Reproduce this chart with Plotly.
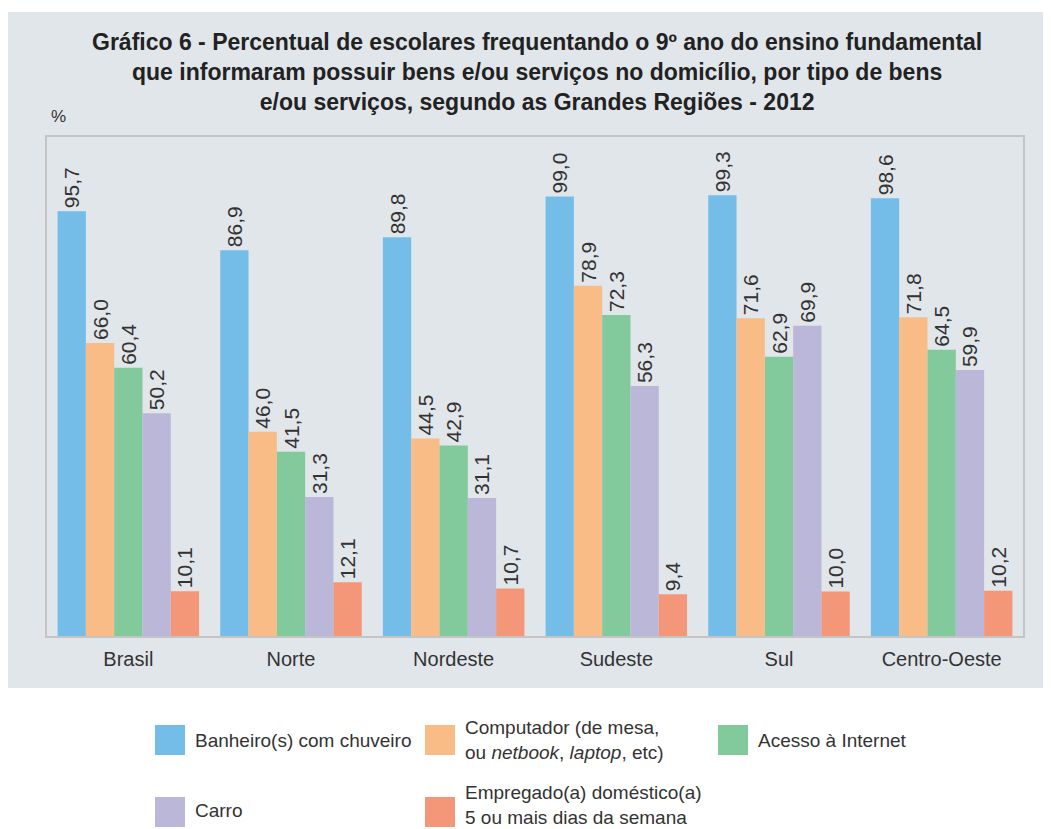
import plotly.graph_objects as go

regions = ["Brasil", "Norte", "Nordeste", "Sudeste", "Sul", "Centro-Oeste"]
series_names = [
    "Banheiro(s) com chuveiro",
    "Computador (de mesa,<br>ou <i>netbook</i>, <i>laptop</i>, etc)",
    "Acesso à Internet",
    "Carro",
    "Empregado(a) doméstico(a)<br>5 ou mais dias da semana",
]
banheiro = [95.7, 86.9, 89.8, 99.0, 99.3, 98.6]
computador = [66.0, 46.0, 44.5, 78.9, 71.6, 71.8]
internet = [60.4, 41.5, 42.9, 72.3, 62.9, 64.5]
carro = [50.2, 31.3, 31.1, 56.3, 69.9, 59.9]
empregado = [10.1, 12.1, 10.7, 9.4, 10.0, 10.2]
series_values = [banheiro, computador, internet, carro, empregado]
colors = ["#74bde8", "#f9bc87", "#82ca9b", "#bab7d9", "#f49779"]

# page has an 8px body margin: figure is drawn at (8, 8)
W, H = 1043, 821
PL, PR, PT, PB = 47, 1023, 137, 636  # plot area in window pixels


def fx(px):
    return (px - PL) / (PR - PL)


def fy(py):
    return (PB - py) / (PB - PT)


FONT = "Liberation Sans, Arial, sans-serif"
fig = go.Figure()
for name, vals, col in zip(series_names, series_values, colors):
    fig.add_trace(go.Bar(
        x=regions, y=vals, name=name, marker_color=col, marker_line_width=0,
        texttemplate="%{y:.1f}", textposition="outside", textangle=-90,
        constraintext="none",
        textfont=dict(family=FONT, size=21, color="#333333"),
        cliponaxis=False, showlegend=False,
    ))

shapes = [
    dict(type="rect", xref="paper", yref="paper", layer="below",
         x0=fx(6), x1=fx(1060), y0=fy(688), y1=fy(12),
         fillcolor="#e1e6ea", line_width=0),
]

annotations = [
    dict(text="<b>Gráfico 6 - Percentual de escolares frequentando o 9º ano do ensino fundamental<br>"
              "que informaram possuir bens e/ou serviços no domicílio, por tipo de bens<br>"
              "e/ou serviços, segundo as Grandes Regiões - 2012</b>",
         xref="paper", yref="paper", x=fx(537), y=fy(72),
         xanchor="center", yanchor="middle", showarrow=False, align="center",
         font=dict(family=FONT, size=23, color="#222222")),
    dict(text="%", xref="paper", yref="paper", x=fx(49), y=fy(116),
         xanchor="left", yanchor="middle", showarrow=False,
         font=dict(family=FONT, size=17, color="#333333")),
]

# legend drawn manually
leg_pos = [(155, 740), (425, 740), (718, 740), (155, 810), (425, 805)]
for (px, py), name, col in zip(leg_pos, series_names, colors):
    sy = 812 if py > 780 else py
    shapes.append(dict(type="rect", xref="paper", yref="paper",
                       x0=fx(px), x1=fx(px + 30),
                       y0=fy(sy + 15), y1=fy(sy - 15),
                       fillcolor=col, line_width=0))
    annotations.append(dict(text=name, xref="paper", yref="paper",
                            x=fx(px + 38), y=fy(py),
                            xanchor="left", yanchor="middle", showarrow=False, align="left",
                            font=dict(family=FONT, size=19, color="#333333")))

fig.update_layout(
    width=W, height=H,
    margin=dict(l=PL - 8, r=W - (PR - 8), t=PT - 8, b=H - (PB - 8), pad=0),
    paper_bgcolor="white", plot_bgcolor="white",
    barmode="group", bargap=0.13, bargroupgap=0,
    separators=",.",
    shapes=shapes, annotations=annotations,
    showlegend=False,
    xaxis=dict(showgrid=False, ticks="", showline=True, linecolor="#c4c4c4", linewidth=2,
               mirror=True, ticklabelstandoff=4,
               tickfont=dict(family=FONT, size=20, color="#333333")),
    yaxis=dict(range=[0, 112.4], showgrid=False, showticklabels=False, ticks="",
               showline=True, linecolor="#c4c4c4", linewidth=2, mirror=True, zeroline=False),
)

fig.write_html("out.html")
